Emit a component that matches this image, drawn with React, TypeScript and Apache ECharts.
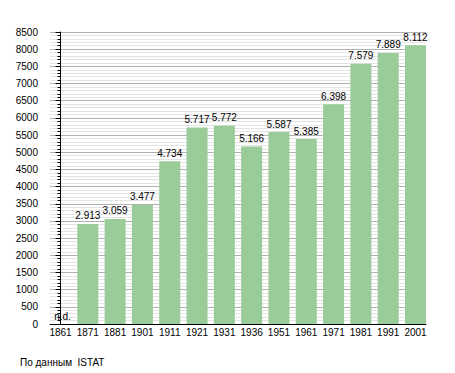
import React, { useEffect, useRef } from "react";
import * as echarts from "echarts";

const years = ["1861", "1871", "1881", "1901", "1911", "1921", "1931", "1936", "1951", "1961", "1971", "1981", "1991", "2001"];
const population: (number | null)[] = [null, 2913, 3059, 3477, 4734, 5717, 5772, 5166, 5587, 5385, 6398, 7579, 7889, 8112];
const sourceNote = "По данным  ISTAT";

const fmt = (v: number) => {
  const s = String(v);
  return s.length > 3 ? s.slice(0, s.length - 3) + "." + s.slice(s.length - 3) : s;
};

export default function App() {
  const ref = useRef<HTMLDivElement>(null);
  useEffect(() => {
    if (!ref.current) return;
    const chart = echarts.init(ref.current, undefined, { renderer: "svg" });
    const font = "Liberation Sans, Arial, sans-serif";
    const plotW = 376;
    const barW = 21;
    const slot = (plotW - barW) / (years.length - 1);
    const pad = barW / 2 / slot;
    const idx = years.map((_, i) => i);
    chart.setOption({
      animation: false,
      backgroundColor: "#ffffff",
      textStyle: { fontFamily: font },
      grid: { left: 50, top: 32, width: plotW, bottom: 49, containLabel: false },
      xAxis: {
        type: "value",
        min: -pad,
        max: years.length - 1 + pad,
        axisLine: { show: true, onZero: false, lineStyle: { color: "#000", width: 1 } },
        axisTick: { show: false },
        axisLabel: {
          color: "#000",
          fontSize: 10,
          fontFamily: font,
          margin: 3,
          customValues: idx,
          formatter: (v: number) => years[Math.round(v)] ?? "",
        },
        splitLine: { show: false },
      },
      yAxis: {
        type: "value",
        min: 0,
        max: 8500,
        interval: 500,
        axisLine: { show: true, lineStyle: { color: "#000", width: 1 } },
        axisTick: { show: true, length: 5, lineStyle: { color: "#000" } },
        minorTick: { show: true, splitNumber: 5, length: 3, lineStyle: { color: "#000" } },
        axisLabel: { color: "#000", fontSize: 10, fontFamily: font, margin: 12, formatter: (v: number) => String(v) },
        splitLine: { show: true, lineStyle: { color: "#b0b0b0", width: 1 } },
        minorSplitLine: { show: true, lineStyle: { color: "#e4e4e4", width: 1 } },
      },
      series: [
        {
          type: "bar",
          barWidth: barW,
          itemStyle: { color: "#99cc99" },
          data: population.map((v, i) =>
            v === null
              ? { value: [i, 0], label: { offset: [2, 0] } }
              : { value: [i, v] }
          ),
          label: {
            show: true,
            position: "top",
            distance: 3,
            color: "#000",
            fontSize: 10,
            fontFamily: font,
            formatter: (p: any) => (p.value[1] === 0 ? "n.d." : fmt(p.value[1])),
          },
        },
      ],
      graphic: [
        {
          type: "text",
          left: 20,
          top: 357,
          style: { text: sourceNote, fill: "#000", fontSize: 10, fontFamily: font },
        },
      ],
    });
    return () => chart.dispose();
  }, []);
  return <div ref={ref} style={{ width: 455, height: 373, position: "absolute", left: 0, top: 0 }} />;
}
